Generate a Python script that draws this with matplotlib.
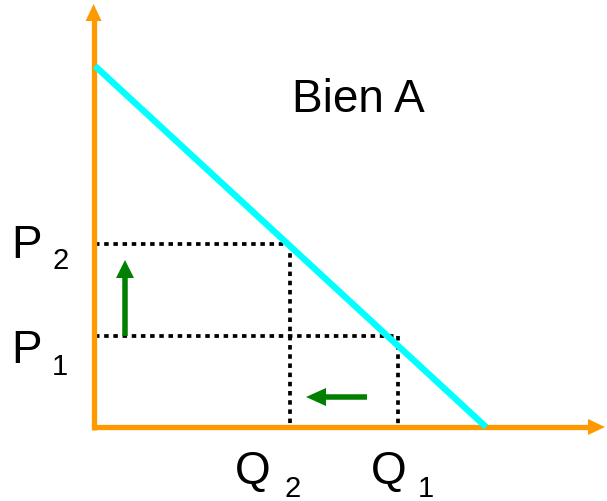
import matplotlib
matplotlib.use("Agg")
import matplotlib.pyplot as plt
from matplotlib.patches import FancyArrow

# Data (economic units: quantity on x, price on y; origin at axes corner)
demand_q = [0, 391]      # demand line quantity endpoints
demand_p = [361, 0]      # demand line price endpoints
prices = {"P1": 91, "P2": 183}
quantities = {"Q1": 303, "Q2": 195}
axis_max_q = 510
axis_max_p = 423

plt.rcParams['font.family'] = ['Liberation Sans', 'DejaVu Sans']

fig = plt.figure(figsize=(6.07, 5.02), dpi=100)
ax = fig.add_axes([0, 0, 1, 1])
ax.set_xlim(-95, 512)
ax.set_ylim(-74, 428)
ax.axis('off')

orange = '#FF9900'
cyan = '#00FFFF'
green = '#008000'

# axes with arrows
ax.plot([0, axis_max_q - 14], [0, 0], color=orange, lw=3.8, solid_capstyle='butt', zorder=2)
ax.plot([-1.4, -1.4], [-2.6, axis_max_p - 14], color=orange, lw=3.8, solid_capstyle='butt', zorder=2)
ax.add_patch(FancyArrow(axis_max_q - 17, 0, 17, 0, width=0, head_width=16, head_length=17,
                        length_includes_head=True, color=orange, lw=0, zorder=2))
ax.add_patch(FancyArrow(-1.4, axis_max_p - 17, 0, 17, width=0, head_width=16, head_length=17,
                        length_includes_head=True, color=orange, lw=0, zorder=2))

# demand line
ax.plot(demand_q, demand_p, color=cyan, lw=4.6, solid_capstyle='butt', zorder=3)

# dotted guides
dot = dict(color='black', lw=2.7, linestyle=(0, (1.2, 1.25)), zorder=1)
for q, p in [(quantities["Q2"], prices["P2"]), (quantities["Q1"], prices["P1"])]:
    ax.plot([0, q], [p, p], **dot)
    ax.plot([q, q], [p, 0], **dot)

# green arrows
ax.add_patch(FancyArrow(30, prices["P1"], 0, prices["P2"] - prices["P1"] - 16, width=5.5,
                        head_width=18, head_length=18, length_includes_head=True,
                        color=green, lw=0, zorder=4))
ax.add_patch(FancyArrow(272, 30, -61, 0, width=5.5, head_width=18, head_length=20,
                        length_includes_head=True, color=green, lw=0, zorder=4))

# labels
main = 33
sub = 21
ax.text(-84, 428 - 258, "P", fontsize=main, ha='left', va='baseline')
ax.text(-43, 428 - 269, "2", fontsize=sub, ha='left', va='baseline')
ax.text(-84, 428 - 363, "P", fontsize=main, ha='left', va='baseline')
ax.text(-43, 428 - 375, "1", fontsize=sub, ha='left', va='baseline')
ax.text(140, 428 - 484, "Q", fontsize=main, ha='left', va='baseline')
ax.text(189, 428 - 497, "2", fontsize=sub, ha='left', va='baseline')
ax.text(276, 428 - 484, "Q", fontsize=main, ha='left', va='baseline')
ax.text(323, 428 - 497, "1", fontsize=sub, ha='left', va='baseline')
ax.text(197, 428 - 112, "Bien A", fontsize=33, ha='left', va='baseline')

fig.savefig("out.png", dpi=100)
